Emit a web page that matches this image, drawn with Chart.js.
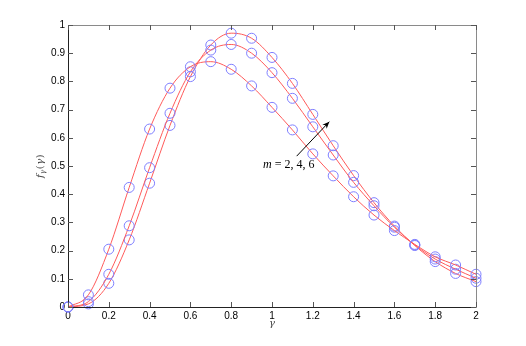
<!DOCTYPE html>
<html>
<head>
<meta charset="UTF-8">
<script src="https://cdn.jsdelivr.net/npm/chart.js@4.4.0/dist/chart.umd.min.js"></script>
<style>
body { margin:0; background:#fff; }
</style>
</head>
<body>
<canvas id="c" width="526" height="346"></canvas>
<script>
// gamma values where the pdf was sampled
var gammaVals = [0, 0.1, 0.2, 0.3, 0.4, 0.5, 0.6, 0.7, 0.8, 0.9, 1.0,
                 1.1, 1.2, 1.3, 1.4, 1.5, 1.6, 1.7, 1.8, 1.9, 2.0];
// f_gamma(gamma), one list per m
var pdfM2 = [0, 0.043, 0.205, 0.424, 0.631, 0.776, 0.852, 0.870, 0.843, 0.784, 0.708,
             0.628, 0.543, 0.465, 0.391, 0.326, 0.271, 0.222, 0.178, 0.149, 0.116];
var pdfM4 = [0, 0.019, 0.116, 0.288, 0.494, 0.687, 0.834, 0.911, 0.931, 0.900, 0.831,
             0.740, 0.639, 0.539, 0.442, 0.359, 0.283, 0.220, 0.170, 0.134, 0.102];
var pdfM6 = [0, 0.011, 0.084, 0.238, 0.439, 0.644, 0.817, 0.929, 0.971, 0.953, 0.885,
             0.793, 0.683, 0.572, 0.466, 0.370, 0.287, 0.218, 0.161, 0.119, 0.090];

var xTicks = [0, 0.2, 0.4, 0.6, 0.8, 1, 1.2, 1.4, 1.6, 1.8, 2];
var yTicks = [0, 0.1, 0.2, 0.3, 0.4, 0.5, 0.6, 0.7, 0.8, 0.9, 1];

// annotation, in data units
var arrowFrom = {x: 1.121, y: 0.535};
var arrowTo   = {x: 1.281, y: 0.657};
var noteAt    = {x: 0.956, y: 0.493};
var noteText  = ' = 2, 4, 6';

var mkset = function(vals) {
    var pts = [];
    for (var i = 0; i < gammaVals.length; i++) pts.push({x: gammaVals[i], y: vals[i]});
    return {
        data: pts,
        borderColor: '#ff5a5a',
        borderWidth: 1,
        cubicInterpolationMode: 'monotone',
        pointStyle: 'circle',
        pointRadius: 5,
        pointBorderWidth: 1,
        pointBorderColor: '#7f7fff',
        pointBackgroundColor: 'rgba(0,0,0,0)',
        clip: false
    };
};

var frame = {
    id: 'frame',
    afterDraw: function(chart) {
        var ctx = chart.ctx, a = chart.chartArea;
        var xs = chart.scales.x, ys = chart.scales.y;
        ctx.save();
        ctx.lineWidth = 1;
        // box
        ctx.strokeStyle = '#8a8a8a';
        ctx.beginPath();
        ctx.moveTo(a.left, a.top + 0.5); ctx.lineTo(a.right + 0.5, a.top + 0.5);
        ctx.lineTo(a.right + 0.5, a.bottom);
        ctx.stroke();
        ctx.strokeStyle = '#222';
        ctx.beginPath();
        ctx.moveTo(a.left + 0.5, a.top); ctx.lineTo(a.left + 0.5, a.bottom + 0.5);
        ctx.lineTo(a.right + 0.5, a.bottom + 0.5);
        ctx.stroke();
        // inward ticks
        var tl = 5;
        ctx.strokeStyle = '#555';
        ctx.beginPath();
        xTicks.forEach(function(v) {
            var px = Math.round(xs.getPixelForValue(v)) + 0.5;
            ctx.moveTo(px, a.bottom); ctx.lineTo(px, a.bottom - tl);
            ctx.moveTo(px, a.top); ctx.lineTo(px, a.top + tl);
        });
        yTicks.forEach(function(v) {
            var py = Math.round(ys.getPixelForValue(v)) + 0.5;
            ctx.moveTo(a.left, py); ctx.lineTo(a.left + tl, py);
            ctx.moveTo(a.right, py); ctx.lineTo(a.right - tl, py);
        });
        ctx.stroke();

        // arrow
        var x0 = xs.getPixelForValue(arrowFrom.x), y0 = ys.getPixelForValue(arrowFrom.y);
        var x1 = xs.getPixelForValue(arrowTo.x), y1 = ys.getPixelForValue(arrowTo.y);
        ctx.strokeStyle = '#000';
        ctx.fillStyle = '#000';
        ctx.beginPath(); ctx.moveTo(x0, y0); ctx.lineTo(x1, y1); ctx.stroke();
        var ang = Math.atan2(y1 - y0, x1 - x0), hl = 7, hw = 3;
        ctx.beginPath();
        ctx.moveTo(x1, y1);
        ctx.lineTo(x1 - hl * Math.cos(ang) + hw * Math.sin(ang), y1 - hl * Math.sin(ang) - hw * Math.cos(ang));
        ctx.lineTo(x1 - hl * 0.7 * Math.cos(ang), y1 - hl * 0.7 * Math.sin(ang));
        ctx.lineTo(x1 - hl * Math.cos(ang) - hw * Math.sin(ang), y1 - hl * Math.sin(ang) + hw * Math.cos(ang));
        ctx.closePath();
        ctx.fill();

        // annotation text
        var tx = xs.getPixelForValue(noteAt.x), ty = ys.getPixelForValue(noteAt.y);
        ctx.textBaseline = 'alphabetic';
        ctx.textAlign = 'left';
        ctx.font = 'italic 12px "Liberation Serif"';
        ctx.fillText('m', tx, ty);
        var w = ctx.measureText('m').width;
        ctx.font = '12px "Liberation Serif"';
        ctx.fillText(noteText, tx + w, ty);

        // x axis title
        ctx.fillStyle = '#444';
        ctx.textAlign = 'center';
        ctx.font = 'italic 10px "DejaVu Serif"';
        ctx.fillText('γ', (a.left + a.right) / 2, a.bottom + 19);

        // y axis title
        ctx.translate(43, (a.top + a.bottom) / 2);
        ctx.rotate(-Math.PI / 2);
        ctx.textAlign = 'left';
        var parts = [['f', 'italic 10px "DejaVu Serif"', 0],
                     ['γ', 'italic 7px "DejaVu Serif"', 2],
                     ['(', '10px "DejaVu Serif"', 0],
                     ['γ', 'italic 10px "DejaVu Serif"', 0],
                     [')', '10px "DejaVu Serif"', 0]];
        var total = 0;
        parts.forEach(function(p) { ctx.font = p[1]; total += ctx.measureText(p[0]).width + 0.5; });
        var cx = -total / 2;
        parts.forEach(function(p) {
            ctx.font = p[1];
            ctx.fillText(p[0], cx, p[2]);
            cx += ctx.measureText(p[0]).width + 0.5;
        });
        ctx.restore();
    }
};

var tickFont = {family: '"Liberation Sans", Arial, sans-serif', size: 10};

new Chart(document.getElementById('c').getContext('2d'), {
    type: 'line',
    data: { datasets: [mkset(pdfM2), mkset(pdfM4), mkset(pdfM6)] },
    options: {
        responsive: false,
        animation: false,
        layout: { padding: {left: 0, top: 25, right: 50, bottom: 0} },
        plugins: { legend: {display: false}, tooltip: {enabled: false} },
        scales: {
            x: {
                type: 'linear', min: 0, max: 2,
                grid: {display: false, drawTicks: false, tickLength: 0},
                border: {display: false},
                afterBuildTicks: function(s) { s.ticks = xTicks.map(function(v) { return {value: v}; }); },
                afterFit: function(s) { s.height = 39; },
                ticks: {
                    font: tickFont, color: '#000', padding: 3, maxRotation: 0,
                    callback: function(v) { return String(+v.toFixed(1)); }
                }
            },
            y: {
                type: 'linear', min: 0, max: 1,
                grid: {display: false, drawTicks: false, tickLength: 0},
                border: {display: false},
                afterBuildTicks: function(s) { s.ticks = yTicks.map(function(v) { return {value: v}; }); },
                afterFit: function(s) { s.width = 68; },
                ticks: {
                    font: tickFont, color: '#000', padding: 3,
                    callback: function(v) { return String(+v.toFixed(1)); }
                }
            }
        }
    },
    plugins: [frame]
});
</script>
</body>
</html>
